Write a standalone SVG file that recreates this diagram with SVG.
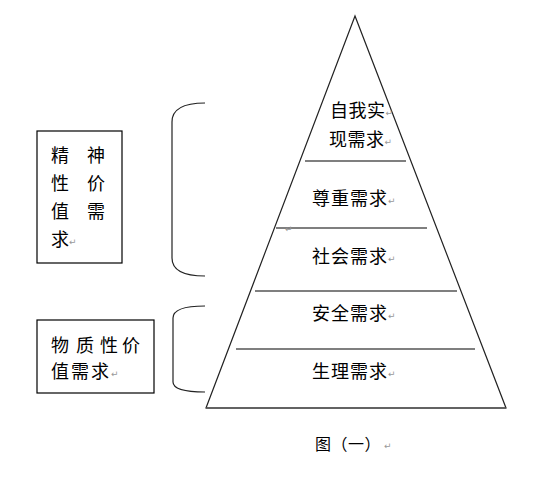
<svg xmlns="http://www.w3.org/2000/svg" width="545" height="485" viewBox="0 0 545 485">
<style>
.t{font-family:"Noto Sans CJK SC","Noto Sans",sans-serif;font-size:18px;fill:#000}
.p{font-family:"DejaVu Sans",sans-serif;font-size:9px;fill:#999}
.sep{stroke:#555;stroke-width:1.5;fill:none}
.edge{stroke:#222;stroke-width:1.2;fill:none}
.box{stroke:#000;stroke-width:1.2;fill:#fff}
</style>
<rect width="545" height="485" fill="#fff"/>
<g id="connectors">
<path class="edge" d="M205,103 Q172,103 172,122 L172,258 Q172,276 205,276"/>
<path class="edge" d="M205,306 Q173,306 173,318 L173,382 Q173,392 205,392"/>
</g>
<g id="pyramid">
<polygon class="edge" points="355,16 206,408 506,408"/>
<line class="sep" x1="305" y1="161" x2="406" y2="161"/>
<line class="sep" x1="276" y1="228" x2="427" y2="228"/>
<line class="sep" x1="255" y1="291" x2="457" y2="291"/>
<line class="sep" x1="236" y1="349" x2="475" y2="349"/>
<line x1="206" y1="408" x2="506" y2="408" stroke="#555" stroke-width="1.5"/>
</g>
<g id="level-self">
<text class="t" x="330" y="117" letter-spacing="0.5">自我实<tspan class="p" dy="-1">↵</tspan></text>
<text class="t" x="329" y="146" letter-spacing="0.5">现需求<tspan class="p" dy="-1">↵</tspan></text>
</g>
<g id="level-esteem">
<text class="t" x="312" y="205" letter-spacing="1">尊重需求<tspan class="p" dy="-1">↵</tspan></text>
</g>
<text class="p" x="285" y="232">↵</text>
<g id="level-social">
<text class="t" x="312" y="263" letter-spacing="1">社会需求<tspan class="p" dy="-1">↵</tspan></text>
</g>
<g id="level-safety">
<text class="t" x="312" y="320" letter-spacing="1">安全需求<tspan class="p" dy="-1">↵</tspan></text>
</g>
<g id="level-physio">
<text class="t" x="312" y="378" letter-spacing="1">生理需求<tspan class="p" dy="-1">↵</tspan></text>
</g>
<g id="spiritual">
<rect class="box" x="37" y="131" width="85" height="132"/>
<text class="t" x="51" y="162">精</text><text class="t" x="87" y="162">神</text>
<text class="t" x="51" y="190">性</text><text class="t" x="87" y="190">价</text>
<text class="t" x="51" y="218">值</text><text class="t" x="87" y="218">需</text>
<text class="t" x="51" y="246">求<tspan class="p" dy="-1">↵</tspan></text>
</g>
<g id="material">
<rect class="box" x="37" y="320" width="117" height="73"/>
<text class="t" y="352"><tspan x="51">物</tspan><tspan x="76">质</tspan><tspan x="100">性</tspan><tspan x="122">价</tspan></text>
<text class="t" x="51" y="378" letter-spacing="2">值需求<tspan class="p" dy="-1" letter-spacing="0">↵</tspan></text>
</g>
<g id="caption">
<text class="t" x="315" y="450" font-size="16" style="font-size:16px" letter-spacing="0.5">图（一）<tspan class="p" dx="3" dy="-1">↵</tspan></text>
</g>
</svg>
